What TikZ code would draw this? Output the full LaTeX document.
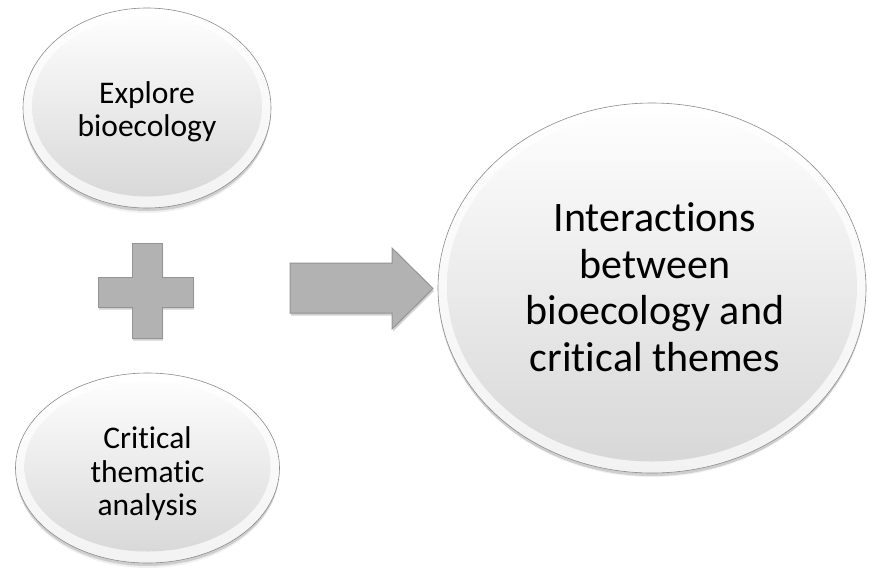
\documentclass[tikz,border=0pt]{standalone}
\usepackage{fontspec}
\setmainfont{Carlito}[Ligatures={NoCommon,NoContextual}]
\usetikzlibrary{shadows,shapes.geometric}

\definecolor{blockfill}{RGB}{178,178,178}
\definecolor{blockline}{RGB}{148,148,148}
\definecolor{rimline}{RGB}{140,140,140}

\tikzset{
  softshadow/.style={
    drop shadow={shadow xshift=0pt, shadow yshift=-3pt, opacity=.14, fill=black},
    drop shadow={shadow xshift=0pt, shadow yshift=-6pt, shadow scale=.99, opacity=.06, fill=black}
  },
  bubble/.style 2 args={
    ellipse, inner sep=0pt, minimum width=#1, minimum height=#2,
    draw=rimline, line width=.6pt,
    top color=white, bottom color=black!5,
    softshadow,
    path picture={
      \shade[top color=white, middle color=black!2, bottom color=black!16]
        ([yshift=1.5pt]path picture bounding box.center)
        ellipse [x radius=#1/2-9pt, y radius=#2/2-10pt];
    }
  },
  smalltext/.style={align=center, font=\fontsize{31.5pt}{33.5pt}\selectfont},
  bigtext/.style={align=center, font=\fontsize{42pt}{46.5pt}\selectfont},
  blockshape/.style={fill=blockfill, draw=blockline, line width=1pt, line join=miter,
    drop shadow={shadow xshift=1pt, shadow yshift=-2.5pt, opacity=.18, fill=black}}
}

\begin{document}
\begin{tikzpicture}[x=1pt, y=-1pt]
  \fill[white] (0,0) rectangle (870,568);
  \useasboundingbox (0,0) rectangle (870,568);

  % the two input bubbles and the result bubble
  \node[bubble={248pt}{200pt}] (explore) at (147,108) {};
  \node[bubble={264pt}{190pt}] (critical) at (147.5,468) {};
  \node[bubble={428pt}{370pt}] (result) at (652,288) {};

  \node[smalltext] (exploretext) at (147,112) {Explore\\bioecology};
  \node[smalltext] (criticaltext) at (147.5,474) {Critical\\thematic\\analysis};
  \node[bigtext] (resulttext) at (655,287) {Interactions\\between\\bioecology and\\critical themes};

  % plus sign between the inputs
  \path[blockshape] (132,243) -- (162,243) -- (162,277) -- (193,277) -- (193,307)
    -- (162,307) -- (162,338) -- (132,338) -- (132,307) -- (98,307) -- (98,277)
    -- (132,277) -- cycle;

  % block arrow towards the result
  \path[blockshape] (290,263) -- (392,263) -- (392,248) -- (433,288.5)
    -- (392,329) -- (392,313) -- (290,313) -- cycle;
\end{tikzpicture}
\end{document}
